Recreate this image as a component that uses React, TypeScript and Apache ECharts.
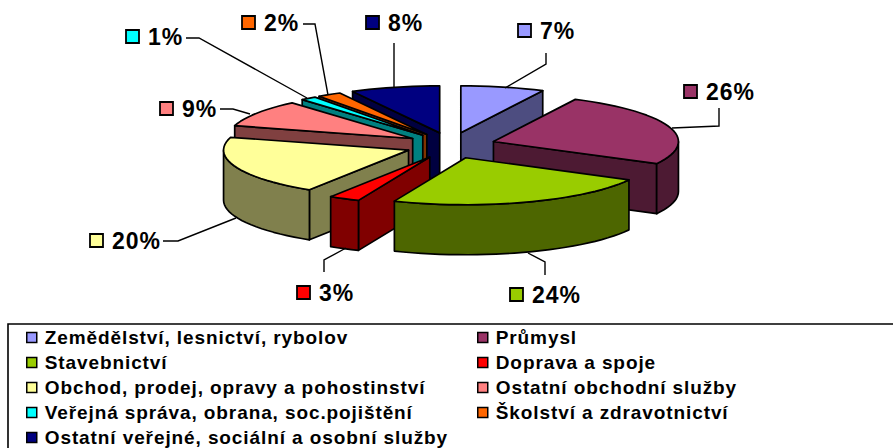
import React, { useEffect, useRef } from "react";
import * as echarts from "echarts";

const categories = [
  "Zemědělství, lesnictví, rybolov",
  "Průmysl",
  "Stavebnictví",
  "Doprava a spoje",
  "Obchod, prodej, opravy a pohostinství",
  "Ostatní obchodní služby",
  "Veřejná správa, obrana, soc.pojištění",
  "Školství a zdravotnictví",
  "Ostatní veřejné, sociální a osobní služby",
];
const shares = [7.3, 25.5, 23.5, 2.7, 20.4, 9.3, 1.4, 2.1, 7.8];
const topColors = ["#9999FF", "#993366", "#99CC00", "#FF0000", "#FFFF99", "#FF8080", "#00FFFF", "#FF6600", "#000080"];
const sideColors = ["#4D4D80", "#4D1A33", "#4D6600", "#800000", "#80804D", "#804040", "#008080", "#803300", "#000040"];
const drawOrder = [0, 8, 7, 6, 5, 1, 4, 3, 2];
const legendLeft = [0, 2, 4, 6, 8];
const legendRight = [1, 3, 5, 7];

// layout of the 3D pie
const CX = 450.6, CY = 145.5, RX = 185, RY = 47, EX = 45, EY = 13, DEPTH = 50;
// per-slice: label key left, label centre y, leader polyline
const labelLayout: [number, number, number[][]][] = [
  [518, 31, [[546, 53], [546, 64], [505, 88]]],
  [684, 92, [[719, 108], [719, 126], [672, 128]]],
  [510, 295, [[545, 275], [545, 262], [528, 253]]],
  [297, 293, [[324, 272], [324, 260], [346, 248]]],
  [90, 241, [[163, 241], [178, 241], [236, 218]]],
  [160, 109, [[220, 109], [233, 109], [250, 114]]],
  [126, 37, [[186, 38], [199, 38], [307, 98]]],
  [242, 23, [[303, 24], [315, 24], [328, 95]]],
  [366, 23, [[394, 43], [394, 87]]],
];

const total = shares.reduce((a, b) => a + b, 0);
const starts = shares.map((_, i) => shares.slice(0, i).reduce((a, b) => a + b, 0));
const rad = (d: number) => (d * Math.PI) / 180;

function renderSlice(index: number) {
  return (_params: any, api: any) => {
    const value = api.value(0);
    const start = api.value(1);
    const a0 = (start / total) * 360;
    const a1 = ((start + value) / total) * 360;
    const mid = (a0 + a1) / 2;
    const ax = CX + EX * Math.sin(rad(mid));
    const ay = CY - EY * Math.cos(rad(mid));
    const pt = (a: number, dz = 0) => [ax + RX * Math.sin(rad(a)), ay - RY * Math.cos(rad(a)) + dz];
    const arc = (from: number, to: number, dz = 0) => {
      const out: number[][] = [];
      const n = Math.max(2, Math.ceil((to - from) / 3));
      for (let k = 0; k <= n; k++) out.push(pt(from + ((to - from) * k) / n, dz));
      return out;
    };
    const st = (fill: string) => ({ fill, stroke: "#000", lineWidth: 1.7, lineJoin: "round" });
    const poly = (points: number[][], fill: string) => ({ type: "polygon", shape: { points }, style: st(fill) });
    const side = sideColors[index];
    const children: any[] = [];
    const wall = (a: number) => poly([[ax, ay], pt(a), pt(a, DEPTH), [ax, ay + DEPTH]], side);
    if (Math.sin(rad(a0)) < 0) children.push(wall(a0));
    if (Math.sin(rad(a1)) > 0) children.push(wall(a1));
    const f = Math.max(a0, 90), t = Math.min(a1, 270);
    if (t > f) children.push(poly([...arc(f, t), ...arc(f, t, DEPTH).reverse()], side));
    children.push(poly([[ax, ay], ...arc(a0, a1)], topColors[index]));
    return { type: "group", children };
  };
}

function buildOption() {
  const graphics: any[] = [
    { type: "rect", silent: true, shape: { x: 8, y: 324, width: 900, height: 140 }, style: { fill: "#fff", stroke: "#000", lineWidth: 1.6 }, z: -1 },
  ];
  labelLayout.forEach(([kx, ky, line], i) => {
    graphics.push({ type: "polyline", silent: true, shape: { points: line }, style: { fill: "none", stroke: "#000", lineWidth: 1.4 }, z: 10 });
    graphics.push({ type: "rect", silent: true, shape: { x: kx, y: ky - 7, width: 13, height: 13 }, style: { fill: topColors[i], stroke: "#000", lineWidth: 1.8 }, z: 10 });
    graphics.push({
      type: "text", silent: true, x: kx + 22, y: ky, z: 10,
      style: { text: `${Math.round(shares[i])}%`, fill: "#000", font: 'bold 23px "Liberation Sans"', textVerticalAlign: "middle", verticalAlign: "middle" },
    });
  });
  const legendBase = {
    orient: "vertical", selectedMode: false, icon: "rect", itemWidth: 10, itemHeight: 10, itemGap: 6,
    itemStyle: { borderColor: "#000", borderWidth: 1.5 },
    textStyle: { fontFamily: "Liberation Sans", fontWeight: "bold", fontSize: 19, color: "#000", padding: [0, 0, 0, 3] },
    padding: 0, top: 328, height: 200,
  };
  return {
    animation: false,
    backgroundColor: "#fff",
    legend: [
      { ...legendBase, left: 26, data: legendLeft.map((i) => categories[i]) },
      { ...legendBase, left: 477, data: legendRight.map((i) => categories[i]) },
    ],
    graphic: graphics,
    series: drawOrder.map((i) => ({
      type: "custom",
      name: categories[i],
      coordinateSystem: "none",
      renderItem: renderSlice(i),
      itemStyle: { color: topColors[i] },
      data: [[shares[i], starts[i]]],
      silent: true,
      z: 2,
    })),
  };
}

export default function App() {
  const ref = useRef<HTMLDivElement>(null);
  useEffect(() => {
    const chart = echarts.init(ref.current!, undefined, { renderer: "svg" });
    chart.setOption(buildOption() as any);
    return () => chart.dispose();
  }, []);
  return <div ref={ref} style={{ position: "fixed", left: 0, top: 0, width: 893, height: 448, letterSpacing: "0.9px" }} />;
}
